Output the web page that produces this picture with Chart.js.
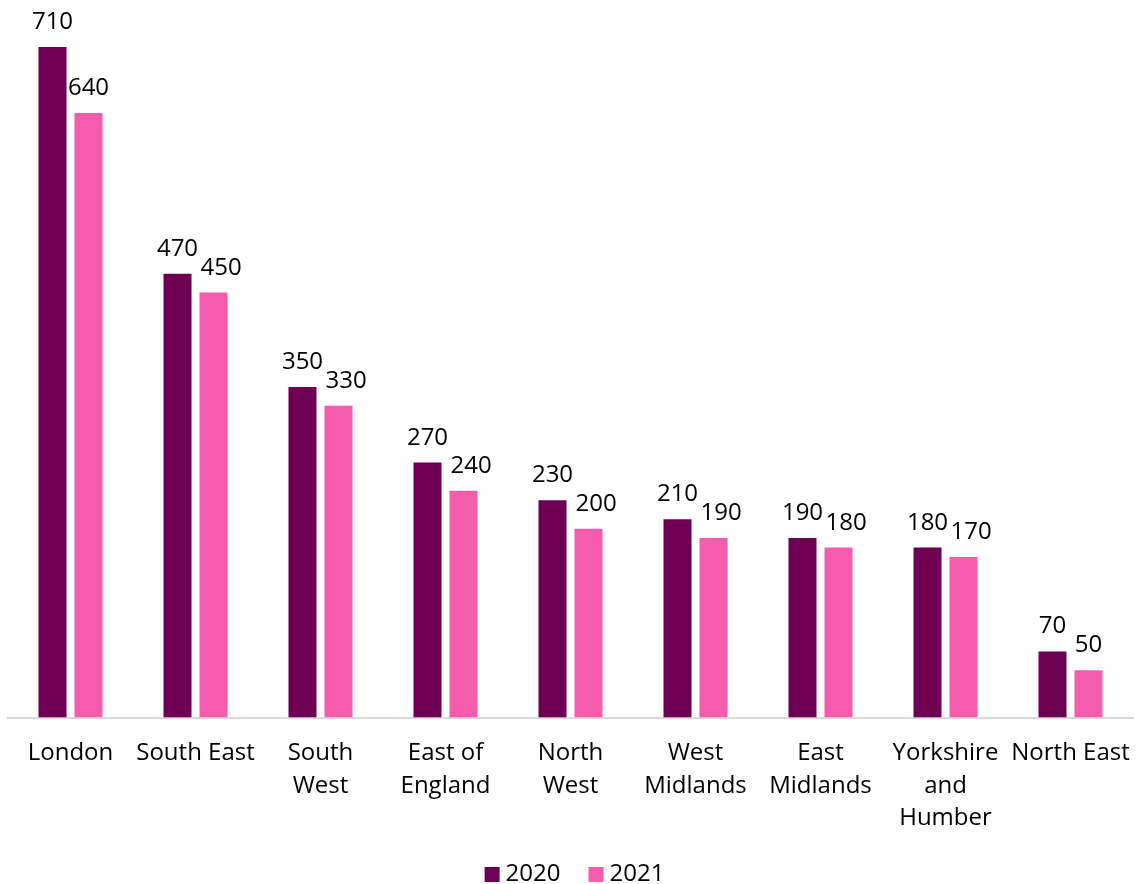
<!DOCTYPE html>
<html>
<head>
<meta charset="utf-8">
<script src="https://cdn.jsdelivr.net/npm/chart.js@4/dist/chart.umd.min.js"></script>
<style>
  html, body { margin: 0; padding: 0; background: #fff; }
  #wrap { width: 1136px; height: 884px; }
</style>
</head>
<body>
<div id="wrap"><canvas id="c" width="1136" height="884"></canvas></div>
<script>
// Regions, with multi-line labels where the name wraps
const regions = [
  'London',
  'South East',
  ['South', 'West'],
  ['East of', 'England'],
  ['North', 'West'],
  ['West', 'Midlands'],
  ['East', 'Midlands'],
  ['Yorkshire', 'and', 'Humber'],
  'North East'
];
const values2020 = [710, 470, 350, 270, 230, 210, 190, 180, 70];
const values2021 = [640, 450, 330, 240, 200, 190, 180, 170, 50];
const seriesNames = ['2020', '2021'];

const FONT = "'Open Sans', 'Noto Sans', sans-serif";

// Writes each bar's value centred above it; where the second series' label
// would run into the first one's, it is pushed a little to the right.
const valueLabels = {
  id: 'valueLabels',
  afterDatasetsDraw(chart) {
    const ctx = chart.ctx;
    ctx.save();
    ctx.font = '24px ' + FONT;
    ctx.fillStyle = '#000';
    ctx.textAlign = 'center';
    ctx.textBaseline = 'alphabetic';
    const metaA = chart.getDatasetMeta(0).data;
    const metaB = chart.getDatasetMeta(1).data;
    const dsA = chart.data.datasets[0].data;
    const dsB = chart.data.datasets[1].data;
    metaA.forEach((barA, j) => {
      const barB = metaB[j];
      const tA = String(dsA[j]), tB = String(dsB[j]);
      const wA = ctx.measureText(tA).width, wB = ctx.measureText(tB).width;
      const yA = barA.y - 18, yB = barB.y - 18;
      let xB = barB.x;
      const overlap = (barA.x + wA / 2) - (barB.x - wB / 2);
      if (overlap > 0 && Math.abs(yB - yA) < 40) xB += overlap + 2.5;
      ctx.fillText(tA, barA.x, yA);
      ctx.fillText(tB, xB, yB);
    });
    ctx.restore();
  }
};

// Compact legend along the bottom edge: square swatch, tight gap, wide item spacing
const bottomLegend = {
  id: 'bottomLegend',
  afterDraw(chart) {
    const ctx = chart.ctx;
    const box = 15, gapText = 6, gapItem = 28;
    const cy = 874.5;
    ctx.save();
    ctx.font = '24px ' + FONT;
    const items = chart.data.datasets.map(ds => ({
      text: ds.label, color: ds.backgroundColor, w: ctx.measureText(ds.label).width
    }));
    const total = items.reduce((s, it) => s + box + gapText + it.w, 0) + gapItem * (items.length - 1);
    let x = (chart.chartArea.left + chart.chartArea.right) / 2 - total / 2 + 4;
    ctx.textBaseline = 'middle';
    ctx.textAlign = 'left';
    items.forEach(it => {
      ctx.fillStyle = it.color;
      ctx.fillRect(x, cy - box / 2, box, box);
      ctx.fillStyle = '#000';
      ctx.fillText(it.text, x + box + gapText, cy);
      x += box + gapText + it.w + gapItem;
    });
    ctx.restore();
  }
};

new Chart(document.getElementById('c'), {
  type: 'bar',
  data: {
    labels: regions,
    datasets: [
      { label: seriesNames[0], data: values2020, backgroundColor: '#6E0054',
        categoryPercentage: 0.576, barPercentage: 0.778 },
      { label: seriesNames[1], data: values2021, backgroundColor: '#F65CAE',
        categoryPercentage: 0.576, barPercentage: 0.778 }
    ]
  },
  options: {
    responsive: false,
    animation: false,
    layout: { padding: { left: 8, right: 3, top: 47, bottom: 30 } },
    scales: {
      x: {
        grid: { display: false, drawTicks: false },
        border: { display: true, color: '#d9d9d9', width: 2 },
        // let the end labels overhang the plot edges instead of shrinking it
        afterFit(scale) { scale.paddingLeft = 0; scale.paddingRight = 0; },
        ticks: {
          color: '#000',
          padding: 20,
          maxRotation: 0,
          autoSkip: false,
          font: { family: FONT, size: 24, lineHeight: 1.34 }
        }
      },
      y: {
        display: false,
        min: 0,
        max: 710
      }
    },
    plugins: {
      legend: { display: false },
      tooltip: { enabled: false }
    }
  },
  plugins: [valueLabels, bottomLegend]
});
</script>
</body>
</html>
